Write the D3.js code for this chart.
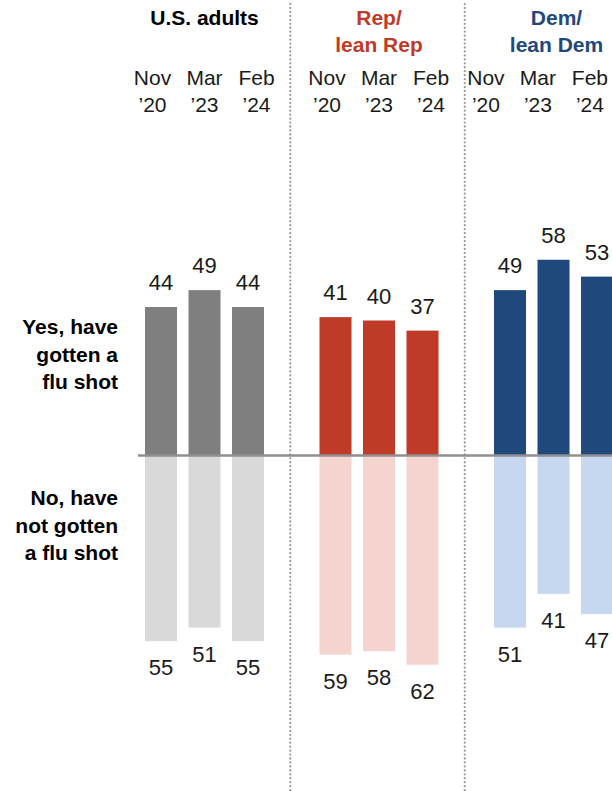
<!DOCTYPE html>
<html>
<head>
<meta charset="utf-8">
<script src="https://cdn.jsdelivr.net/npm/d3@7"></script>
<style>
  html, body { margin: 0; padding: 0; background: #fff; }
  svg { display: block; font-family: "Liberation Sans", Arial, sans-serif; }
</style>
</head>
<body>
<svg id="chart" width="612" height="791"></svg>
<script>
// Flu shot status by survey wave, for all adults and by party
const groups = ["U.S. adults", "Rep/lean Rep", "Dem/lean Dem"];
const groupTitles = [["U.S. adults"], ["Rep/", "lean Rep"], ["Dem/", "lean Dem"]];
const periods = ["Nov '20", "Mar '23", "Feb '24"];
const periodLines = [["Nov", "\u201920"], ["Mar", "\u201923"], ["Feb", "\u201924"]];
const yesValues = [[44, 49, 44], [41, 40, 37], [49, 58, 53]];
const noValues = [[55, 51, 55], [59, 58, 62], [51, 41, 47]];
const rowLabelsYes = ["Yes, have", "gotten a", "flu shot"];
const rowLabelsNo = ["No, have", "not gotten", "a flu shot"];

const W = 612, H = 791;
const baseY = 455.5;
const svg = d3.select("#chart");

const yesColors = ["#7f7f7f", "#bf3b27", "#1f497d"];
const noColors = ["#d9d9d9", "#f5d4cf", "#c6d8ef"];
const titleColors = ["#000000", "#bf3b27", "#1f497d"];

// Horizontal layout: groups, then waves inside each group
const xGroup = d3.scaleBand().domain(groups).range([145, 613]).paddingInner(0.318).paddingOuter(0);
const xWave = d3.scaleBand().domain(periods).range([0, xGroup.bandwidth()]).paddingInner(0.264).paddingOuter(0);

// Vertical scale: positive up for "yes", negative down for "no"
const y = d3.scaleLinear().domain([-100, 100]).range([baseY + 337.5, baseY - 337.5]);

// Dotted separators between groups
const gap = xGroup.step() - xGroup.bandwidth();
groups.slice(1).forEach(g => {
  const sx = xGroup(g) - gap / 2 - 1.5;
  svg.append("line")
    .attr("x1", sx).attr("x2", sx).attr("y1", 4).attr("y2", H)
    .attr("stroke", "#9a9a9a").attr("stroke-width", 2.2)
    .attr("stroke-linecap", "round").attr("stroke-dasharray", "0.1 3.85");
});

// Group titles
groups.forEach((g, gi) => {
  const cx = xGroup(g) + xGroup.bandwidth() / 2 + (gi === 2 ? 3 : 0);
  const t = svg.append("text")
    .attr("x", cx).attr("y", 25)
    .attr("text-anchor", "middle")
    .attr("font-weight", "bold").attr("font-size", 21)
    .attr("fill", titleColors[gi]);
  groupTitles[gi].forEach((line, li) => {
    t.append("tspan").attr("x", cx).attr("dy", li === 0 ? 0 : 27).text(line);
  });
});

// Wave labels above each group, kept inside the page on the right
const labelStep = 52;
groups.forEach((g, gi) => {
  const cx = xGroup(g) + xGroup.bandwidth() / 2;
  const gLab = svg.append("g");
  periods.forEach((p, pi) => {
    const t = gLab.append("text")
      .attr("x", cx + (pi - 1) * labelStep).attr("y", 85)
      .attr("text-anchor", "middle").attr("font-size", 21).attr("fill", "#1a1a1a");
    t.append("tspan").attr("x", cx + (pi - 1) * labelStep).attr("dy", 0).text(periodLines[pi][0]);
    t.append("tspan").attr("x", cx + (pi - 1) * labelStep).attr("dy", 27).text(periodLines[pi][1]);
  });
  const bb = gLab.node().getBBox();
  const overflow = bb.x + bb.width - (W - 4);
  if (overflow > 0) gLab.attr("transform", `translate(${-overflow},0)`);
});

// Bars and value labels
groups.forEach((g, gi) => {
  const gx = xGroup(g);
  periods.forEach((p, pi) => {
    const x0 = gx + xWave(p);
    const bw = xWave.bandwidth();
    const yv = yesValues[gi][pi];
    const nv = noValues[gi][pi];
    svg.append("rect")
      .attr("x", x0).attr("width", bw)
      .attr("y", y(yv)).attr("height", y(0) - y(yv))
      .attr("fill", yesColors[gi]);
    svg.append("rect")
      .attr("x", x0).attr("width", bw)
      .attr("y", y(0)).attr("height", y(-nv) - y(0))
      .attr("fill", noColors[gi]);
    svg.append("text")
      .attr("x", x0 + bw / 2).attr("y", y(yv) - 17)
      .attr("text-anchor", "middle").attr("font-size", 22).attr("fill", "#1a1a1a")
      .text(yv);
    svg.append("text")
      .attr("x", x0 + bw / 2).attr("y", y(-nv) + 34)
      .attr("text-anchor", "middle").attr("font-size", 22).attr("fill", "#1a1a1a")
      .text(nv);
  });
});

// Zero line
svg.append("line")
  .attr("x1", 138).attr("x2", W).attr("y1", y(0)).attr("y2", y(0))
  .attr("stroke", "#8f8f8f").attr("stroke-width", 2.6);

// Row labels
function rowLabel(lines, firstBaseline) {
  const t = svg.append("text")
    .attr("x", 118).attr("y", firstBaseline)
    .attr("text-anchor", "end").attr("font-weight", "bold").attr("font-size", 21)
    .attr("fill", "#000");
  lines.forEach((l, i) => t.append("tspan").attr("x", 118).attr("dy", i === 0 ? 0 : 27.5).text(l));
}
rowLabel(rowLabelsYes, 334);
rowLabel(rowLabelsNo, 505);
</script>
</body>
</html>
